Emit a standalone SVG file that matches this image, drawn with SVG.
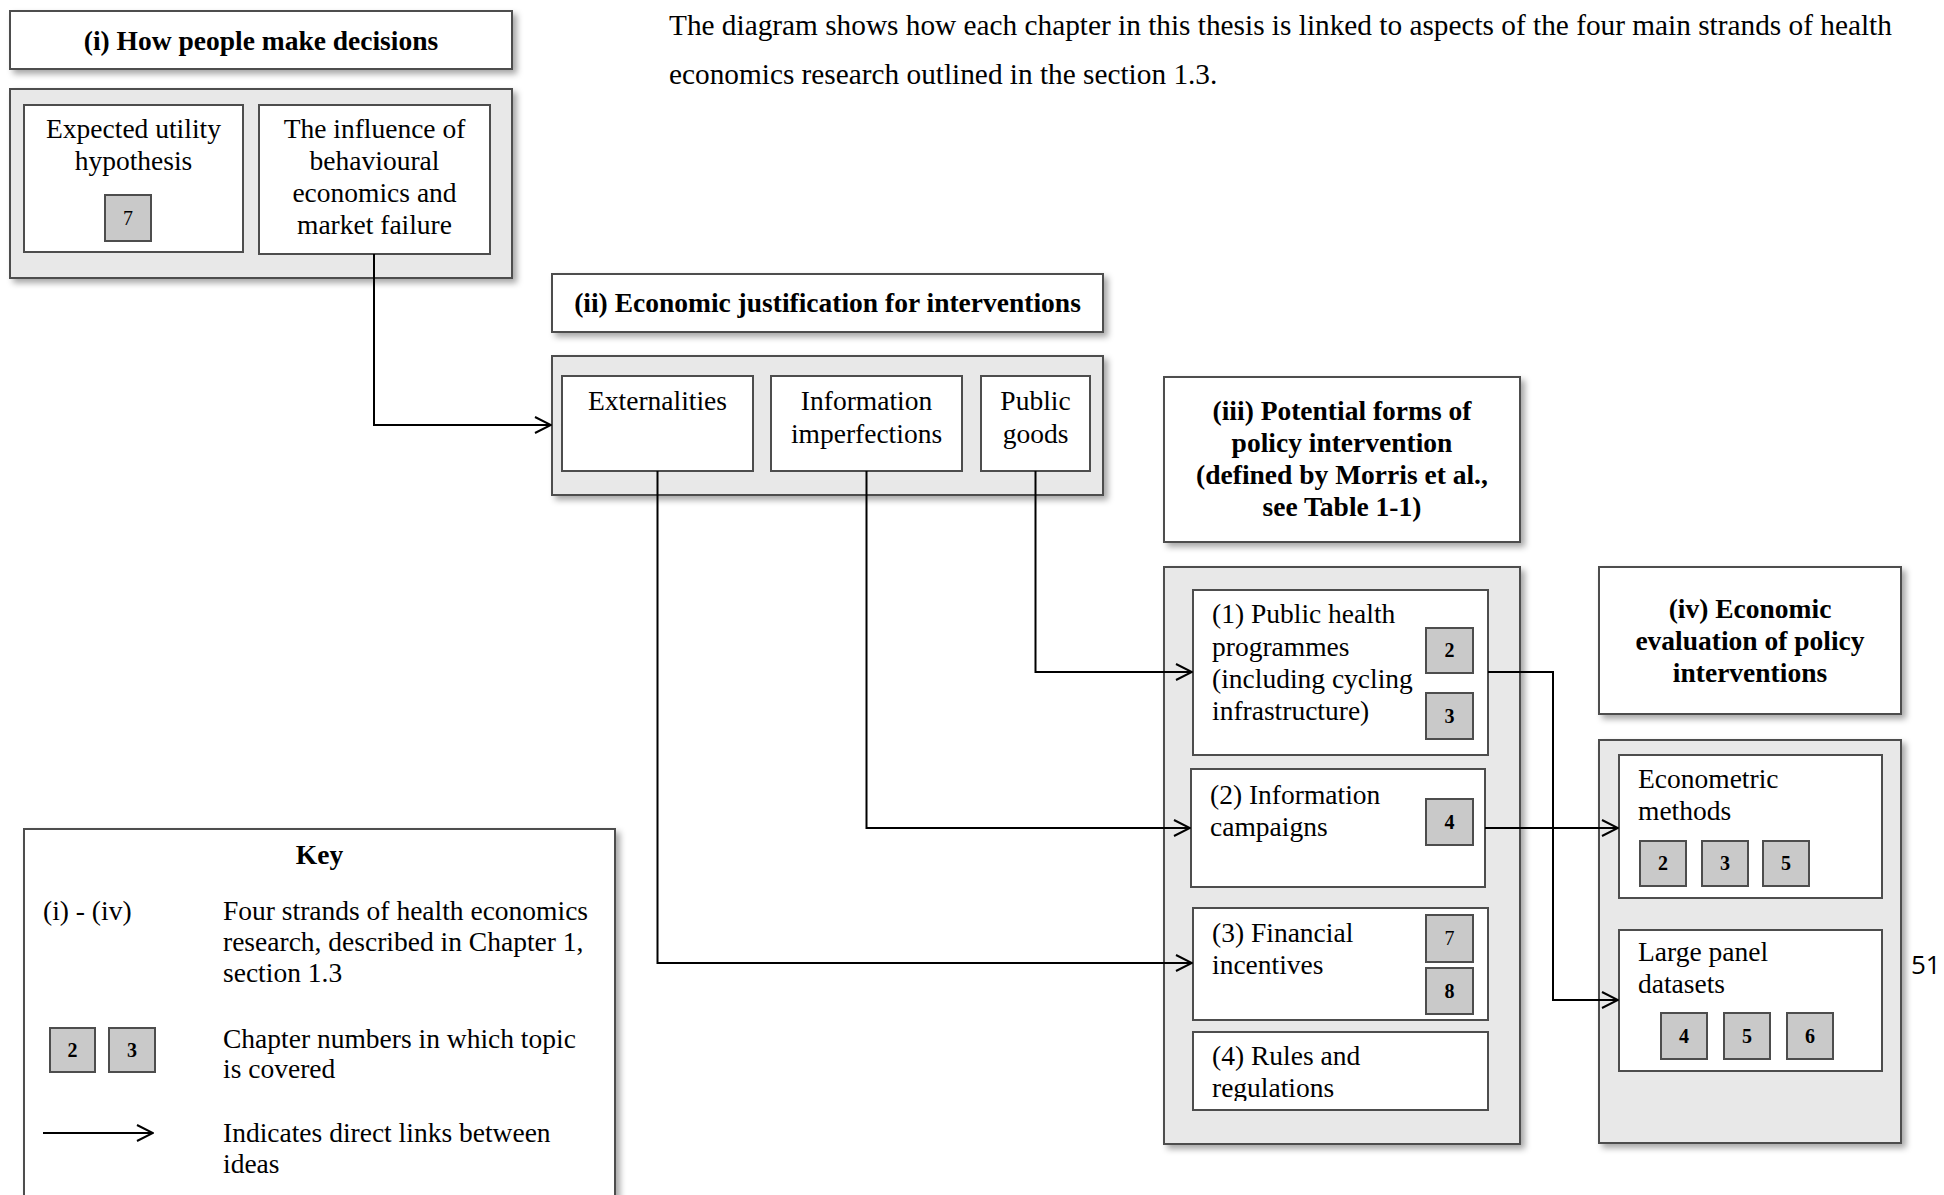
<svg xmlns="http://www.w3.org/2000/svg" width="1944" height="1195" viewBox="0 0 1944 1195">
<style>
.t{font-family:"Liberation Serif","Times New Roman",serif;font-size:27.5px;fill:#000}
.p{font-size:29.3px}
.b{font-weight:bold}
.m{text-anchor:middle}
.n{font-family:"Liberation Serif","Times New Roman",serif;font-size:20px;font-weight:bold;text-anchor:middle;fill:#000}
.nr{font-weight:normal}
.box{fill:#fff;stroke:#4d4d4d;stroke-width:2}
.title{fill:#fff;stroke:#4d4d4d;stroke-width:2;filter:url(#sh)}
.cont{fill:#e8e8e8;stroke:#4d4d4d;stroke-width:2;filter:url(#sh)}
.ch{fill:#c9c9c9;stroke:#4d4d4d;stroke-width:2}
.conn{fill:none;stroke:#000;stroke-width:2;marker-end:url(#arr)}
</style>
<defs>
<filter id="sh" x="-10%" y="-10%" width="130%" height="130%">
<feDropShadow dx="4" dy="4" stdDeviation="3" flood-color="#000" flood-opacity="0.35"/>
</filter>
<marker id="arr" markerUnits="userSpaceOnUse" viewBox="0 0 18 18" refX="17" refY="9" markerWidth="18" markerHeight="18" orient="auto">
<path d="M1,1 L17,9 L1,17" fill="none" stroke="#000" stroke-width="2"/>
</marker>
<clipPath id="clip4"><rect x="1193" y="1032" width="295" height="69"/></clipPath>
</defs>
<rect width="1944" height="1195" fill="#fff"/>

<g id="intro">
<text class="t p" x="669" y="35">The diagram shows how each chapter in this thesis is linked to aspects of the four main strands of health</text>
<text class="t p" x="669" y="84">economics research outlined in the section 1.3.</text>
</g>

<g id="strand-i">
<rect class="title" x="10" y="11" width="502" height="58"/>
<text class="t b m" x="261" y="50">(i) How people make decisions</text>
<rect class="cont" x="10" y="89" width="502" height="189"/>
</g>
<g id="expected-utility">
<rect class="box" x="24" y="105" width="219" height="147"/>
<text class="t m" x="133.5" y="138">Expected utility</text>
<text class="t m" x="133.5" y="170">hypothesis</text>
<rect class="ch" x="105" y="195" width="46" height="46"/>
<text class="n nr" x="128" y="225">7</text>
</g>
<g id="behavioural">
<rect class="box" x="259" y="105" width="231" height="149"/>
<text class="t m" x="374.5" y="138">The influence of</text>
<text class="t m" x="374.5" y="170">behavioural</text>
<text class="t m" x="374.5" y="202">economics and</text>
<text class="t m" x="374.5" y="234">market failure</text>
</g>

<g id="strand-ii">
<rect class="title" x="552" y="274" width="551" height="58"/>
<text class="t b m" x="827.5" y="312">(ii) Economic justification for interventions</text>
<rect class="cont" x="552" y="356" width="551" height="139"/>
</g>
<g id="externalities">
<rect class="box" x="562" y="376" width="191" height="95"/>
<text class="t m" x="657.5" y="410">Externalities</text>
</g>
<g id="information-imperfections">
<rect class="box" x="771" y="376" width="191" height="95"/>
<text class="t m" x="866.5" y="410">Information</text>
<text class="t m" x="866.5" y="443">imperfections</text>
</g>
<g id="public-goods">
<rect class="box" x="981" y="376" width="109" height="95"/>
<text class="t m" x="1035.5" y="410">Public</text>
<text class="t m" x="1035.5" y="443">goods</text>
</g>

<g id="strand-iii">
<rect class="title" x="1164" y="377" width="356" height="165"/>
<text class="t b m" x="1342" y="420">(iii) Potential forms of</text>
<text class="t b m" x="1342" y="452">policy intervention</text>
<text class="t b m" x="1342" y="484">(defined by Morris et al.,</text>
<text class="t b m" x="1342" y="516">see Table 1-1)</text>
<rect class="cont" x="1164" y="567" width="356" height="577"/>
</g>
<g id="public-health">
<rect class="box" x="1193" y="590" width="295" height="165"/>
<text class="t" x="1212" y="623">(1) Public health</text>
<text class="t" x="1212" y="656">programmes</text>
<text class="t" x="1212" y="688">(including cycling</text>
<text class="t" x="1212" y="720">infrastructure)</text>
<rect class="ch" x="1426" y="628" width="47" height="45"/>
<text class="n" x="1449.5" y="657">2</text>
<rect class="ch" x="1426" y="693" width="47" height="46"/>
<text class="n" x="1449.5" y="723">3</text>
</g>
<g id="information-campaigns">
<rect class="box" x="1191" y="769" width="294" height="118"/>
<text class="t" x="1210" y="804">(2) Information</text>
<text class="t" x="1210" y="836">campaigns</text>
<rect class="ch" x="1426" y="799" width="47" height="46"/>
<text class="n" x="1449.5" y="829">4</text>
</g>
<g id="financial-incentives">
<rect class="box" x="1193" y="908" width="295" height="112"/>
<text class="t" x="1212" y="942">(3) Financial</text>
<text class="t" x="1212" y="974">incentives</text>
<rect class="ch" x="1426" y="915" width="47" height="47"/>
<text class="n nr" x="1449.5" y="945">7</text>
<rect class="ch" x="1426" y="968" width="47" height="46"/>
<text class="n" x="1449.5" y="998">8</text>
</g>
<g id="rules-regulations">
<rect class="box" x="1193" y="1032" width="295" height="78"/>
<g clip-path="url(#clip4)">
<text class="t" x="1212" y="1065">(4) Rules and</text>
<text class="t" x="1212" y="1097">regulations</text>
</g>
</g>

<g id="strand-iv">
<rect class="title" x="1599" y="567" width="302" height="147"/>
<text class="t b m" x="1750" y="618">(iv) Economic</text>
<text class="t b m" x="1750" y="650">evaluation of policy</text>
<text class="t b m" x="1750" y="682">interventions</text>
<rect class="cont" x="1599" y="740" width="302" height="403"/>
</g>
<g id="econometric-methods">
<rect class="box" x="1619" y="755" width="263" height="143"/>
<text class="t" x="1638" y="788">Econometric</text>
<text class="t" x="1638" y="820">methods</text>
<rect class="ch" x="1640" y="841" width="46" height="45"/>
<text class="n" x="1663" y="870">2</text>
<rect class="ch" x="1702" y="841" width="46" height="45"/>
<text class="n" x="1725" y="870">3</text>
<rect class="ch" x="1763" y="841" width="46" height="45"/>
<text class="n" x="1786" y="870">5</text>
</g>
<g id="large-panel-datasets">
<rect class="box" x="1619" y="930" width="263" height="141"/>
<text class="t" x="1638" y="961">Large panel</text>
<text class="t" x="1638" y="993">datasets</text>
<rect class="ch" x="1661" y="1013" width="46" height="46"/>
<text class="n" x="1684" y="1043">4</text>
<rect class="ch" x="1724" y="1013" width="46" height="46"/>
<text class="n" x="1747" y="1043">5</text>
<rect class="ch" x="1787" y="1013" width="46" height="46"/>
<text class="n" x="1810" y="1043">6</text>
</g>

<g id="connectors">
<path class="conn" d="M374,254 V425 H551"/>
<path class="conn" d="M657.5,471 V963 H1192"/>
<path class="conn" d="M866.5,471 V828 H1190"/>
<path class="conn" d="M1035.5,471 V672 H1192"/>
<path class="conn" d="M1488,672 H1553 V1000 H1618"/>
<path class="conn" d="M1485,828 H1618"/>
</g>

<g id="key">
<rect class="title" x="24" y="829" width="591" height="380"/>
<text class="t b m" x="319.5" y="864">Key</text>
<text class="t" x="43" y="920">(i) - (iv)</text>
<text class="t" x="223" y="920">Four strands of health economics</text>
<text class="t" x="223" y="951">research, described in Chapter 1,</text>
<text class="t" x="223" y="982">section 1.3</text>
<rect class="ch" x="50" y="1028" width="45" height="44"/>
<text class="n" x="72.5" y="1057">2</text>
<rect class="ch" x="109" y="1028" width="46" height="44"/>
<text class="n" x="132" y="1057">3</text>
<text class="t" x="223" y="1048">Chapter numbers in which topic</text>
<text class="t" x="223" y="1078">is covered</text>
<path class="conn" d="M43,1133 H153"/>
<text class="t" x="223" y="1142">Indicates direct links between</text>
<text class="t" x="223" y="1173">ideas</text>
</g>

<text x="1911" y="974" font-family="'Open Sans','Liberation Sans',sans-serif" font-size="26" fill="#000">51</text>
</svg>
